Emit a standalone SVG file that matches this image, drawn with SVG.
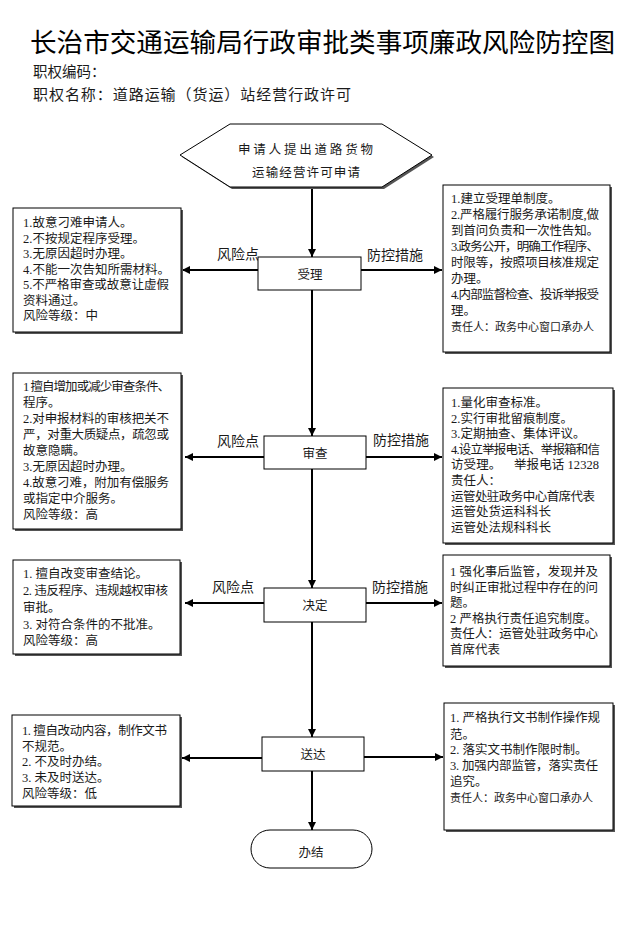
<svg xmlns="http://www.w3.org/2000/svg" width="643" height="949" viewBox="0 0 643 949">
<style>
.t{font-family:"Liberation Serif","Noto Sans CJK SC",serif;font-size:12.5px;fill:#1a1a1a}
.s{font-size:11px}
.lab{font-family:"Liberation Serif","Noto Sans CJK SC",serif;font-size:14px;fill:#1a1a1a}
.box{fill:#fff;stroke:#000;stroke-width:1}
.sh{fill:#555}
.ln{stroke:#000;stroke-width:2;fill:none}
</style>
<defs>
<marker id="ah" viewBox="0 0 10 10" refX="10" refY="5" markerUnits="userSpaceOnUse" markerWidth="9" markerHeight="8" orient="auto"><path d="M0,0 L10,5 L0,10 z" fill="#000"/></marker>
</defs>
<rect width="643" height="949" fill="#fff"/>
<g id="header">
<text x="30" y="52" font-family="'Noto Sans CJK SC',sans-serif" font-size="26" textLength="585" lengthAdjust="spacingAndGlyphs" fill="#000">长治市交通运输局行政审批类事项廉政风险防控图</text>
<text x="33" y="77" font-family="'Noto Sans CJK SC',serif" font-size="14.5" fill="#1a1a1a">职权编码：</text>
<text x="33" y="100" font-family="'Noto Sans CJK SC',serif" font-size="15" textLength="318" fill="#1a1a1a">职权名称：道路运输（货运）站经营行政许可</text>
</g>
<g id="connectors">
<line class="ln" x1="312" y1="187" x2="312" y2="257" marker-end="url(#ah)"/>
<line class="ln" x1="312" y1="290" x2="312" y2="436" marker-end="url(#ah)"/>
<line class="ln" x1="312" y1="469" x2="312" y2="588" marker-end="url(#ah)"/>
<line class="ln" x1="312" y1="622" x2="312" y2="737" marker-end="url(#ah)"/>
<line class="ln" x1="312" y1="771" x2="312" y2="830" marker-end="url(#ah)"/>
<line class="ln" x1="258" y1="270" x2="182" y2="270" marker-end="url(#ah)"/>
<line class="ln" x1="361" y1="270" x2="442" y2="270" marker-end="url(#ah)"/>
<line class="ln" x1="264" y1="457" x2="185" y2="457" marker-end="url(#ah)"/>
<line class="ln" x1="366" y1="457" x2="442" y2="457" marker-end="url(#ah)"/>
<line class="ln" x1="264" y1="603" x2="185" y2="603" marker-end="url(#ah)"/>
<line class="ln" x1="366" y1="603" x2="442" y2="603" marker-end="url(#ah)"/>
<line class="ln" x1="262" y1="758" x2="182" y2="758" marker-end="url(#ah)"/>
<line class="ln" x1="364" y1="757" x2="443" y2="757" marker-end="url(#ah)"/>
<text class="lab" x="217" y="259">风险点</text>
<text class="lab" x="367" y="260">防控措施</text>
<text class="lab" x="217" y="446">风险点</text>
<text class="lab" x="373" y="445">防控措施</text>
<text class="lab" x="212" y="592">风险点</text>
<text class="lab" x="372" y="592">防控措施</text>
</g>
<g id="start">
<polygon points="182,157 232,126 384,126 434,157 384,189 232,189" class="sh"/>
<polygon points="180,155 230,124 382,124 432,155 382,187 230,187" class="box"/>
<text class="t" x="238" y="154" font-size="14" textLength="135">申请人提出道路货物</text>
<text class="t" x="252" y="177" font-size="13.5" textLength="108">运输经营许可申请</text>
</g>
<g id="n_accept">
<rect class="box" x="258" y="257" width="103" height="33"/>
<text class="t" x="310" y="279" font-size="14" text-anchor="middle">受理</text>
</g>
<g id="n_review">
<rect class="box" x="264" y="436" width="102" height="33"/>
<text class="t" x="315" y="458" font-size="14" text-anchor="middle">审查</text>
</g>
<g id="n_decide">
<rect class="box" x="264" y="588" width="102" height="34"/>
<text class="t" x="315" y="610" font-size="14" text-anchor="middle">决定</text>
</g>
<g id="n_deliver">
<rect class="box" x="262" y="737" width="102" height="34"/>
<text class="t" x="313" y="759" font-size="14" text-anchor="middle">送达</text>
</g>
<g id="n_end">
<rect class="box" x="251" y="830" width="121" height="38" rx="19" ry="19"/>
<text class="t" x="311" y="857" font-size="14" text-anchor="middle">办结</text>
</g>
<g id="risk1">
<rect class="sh" x="15" y="210" width="168" height="124"/>
<rect class="box" x="13" y="208" width="168" height="124"/>
<text class="t" x="23" y="227">1.故意刁难申请人。</text>
<text class="t" x="23" y="243">2.不按规定程序受理。</text>
<text class="t" x="23" y="258">3.无原因超时办理。</text>
<text class="t" x="23" y="274">4.不能一次告知所需材料。</text>
<text class="t" x="23" y="289" textLength="146">5.不严格审查或故意让虚假</text>
<text class="t" x="23" y="305">资料通过。</text>
<text class="t" x="23" y="320">风险等级：中</text>
</g>
<g id="ctrl1">
<rect class="sh" x="445" y="187" width="167" height="167"/>
<rect class="box" x="443" y="185" width="167" height="167"/>
<text class="t" x="451" y="203">1.建立受理单制度。</text>
<text class="t" x="451" y="219" textLength="148">2.严格履行服务承诺制度,做</text>
<text class="t" x="451" y="235" textLength="148">到首问负责和一次性告知。</text>
<text class="t" x="451" y="251" textLength="148">3.政务公开，明确工作程序、</text>
<text class="t" x="451" y="267" textLength="148">时限等，按照项目核准规定</text>
<text class="t" x="451" y="283">办理。</text>
<text class="t" x="451" y="299" textLength="148">4.内部监督检查、投诉举报受</text>
<text class="t" x="451" y="315">理。</text>
<text class="t s" x="451" y="331">责任人：政务中心窗口承办人</text>
</g>
<g id="risk2">
<rect class="sh" x="15" y="375" width="168" height="156"/>
<rect class="box" x="13" y="373" width="168" height="156"/>
<text class="t" x="23" y="391" textLength="147">1 擅自增加或减少审查条件、</text>
<text class="t" x="23" y="407">程序。</text>
<text class="t" x="23" y="423" textLength="146">2.对申报材料的审核把关不</text>
<text class="t" x="23" y="439" textLength="146">严，对重大质疑点，疏忽或</text>
<text class="t" x="23" y="455">故意隐瞒。</text>
<text class="t" x="23" y="471">3.无原因超时办理。</text>
<text class="t" x="23" y="487" textLength="146">4.故意刁难，附加有偿服务</text>
<text class="t" x="23" y="503">或指定中介服务。</text>
<text class="t" x="23" y="519">风险等级：高</text>
</g>
<g id="ctrl2">
<rect class="sh" x="445" y="390" width="170" height="155"/>
<rect class="box" x="443" y="388" width="170" height="155"/>
<text class="t" x="451" y="407">1.量化审查标准。</text>
<text class="t" x="451" y="423">2.实行审批留痕制度。</text>
<text class="t" x="451" y="438">3.定期抽查、集体评议。</text>
<text class="t" x="451" y="454" textLength="149">4.设立举报电话、举报箱和信</text>
<text class="t" x="451" y="469" xml:space="preserve" textLength="148">访受理。    举报电话 12328</text>
<text class="t" x="451" y="485">责任人：</text>
<text class="t" x="451" y="501" textLength="144">运管处驻政务中心首席代表</text>
<text class="t" x="451" y="516">运管处货运科科长</text>
<text class="t" x="451" y="532">运管处法规科科长</text>
</g>
<g id="risk3">
<rect class="sh" x="15" y="562" width="167" height="94"/>
<rect class="box" x="13" y="560" width="167" height="94"/>
<text class="t" x="23" y="578">1. 擅自改变审查结论。</text>
<text class="t" x="23" y="595" textLength="145">2. 违反程序、违规越权审核</text>
<text class="t" x="23" y="612">审批。</text>
<text class="t" x="23" y="629">3. 对符合条件的不批准。</text>
<text class="t" x="23" y="645">风险等级：高</text>
</g>
<g id="ctrl3">
<rect class="sh" x="445" y="557" width="167" height="111"/>
<rect class="box" x="443" y="555" width="167" height="111"/>
<text class="t" x="450" y="576" textLength="148">1  强化事后监管，发现并及</text>
<text class="t" x="450" y="592" textLength="148">时纠正审批过程中存在的问</text>
<text class="t" x="450" y="607">题。</text>
<text class="t" x="450" y="623">2 严格执行责任追究制度。</text>
<text class="t" x="450" y="638" textLength="148">责任人：运管处驻政务中心</text>
<text class="t" x="450" y="654">首席代表</text>
</g>
<g id="risk4">
<rect class="sh" x="14" y="717" width="168" height="91"/>
<rect class="box" x="12" y="715" width="168" height="91"/>
<text class="t" x="22" y="735" textLength="145">1. 擅自改动内容，制作文书</text>
<text class="t" x="22" y="751">不规范。</text>
<text class="t" x="22" y="766">2. 不及时办结。</text>
<text class="t" x="22" y="782">3. 未及时送达。</text>
<text class="t" x="22" y="798">风险等级：低</text>
</g>
<g id="ctrl4">
<rect class="sh" x="446" y="705" width="169" height="127"/>
<rect class="box" x="444" y="703" width="169" height="127"/>
<text class="t" x="450" y="722" textLength="150">1. 严格执行文书制作操作规</text>
<text class="t" x="450" y="739">范。</text>
<text class="t" x="450" y="754">2. 落实文书制作限时制。</text>
<text class="t" x="450" y="770" textLength="148">3. 加强内部监管，落实责任</text>
<text class="t" x="450" y="786">追究。</text>
<text class="t s" x="450" y="802">责任人：政务中心窗口承办人</text>
</g>
</svg>
